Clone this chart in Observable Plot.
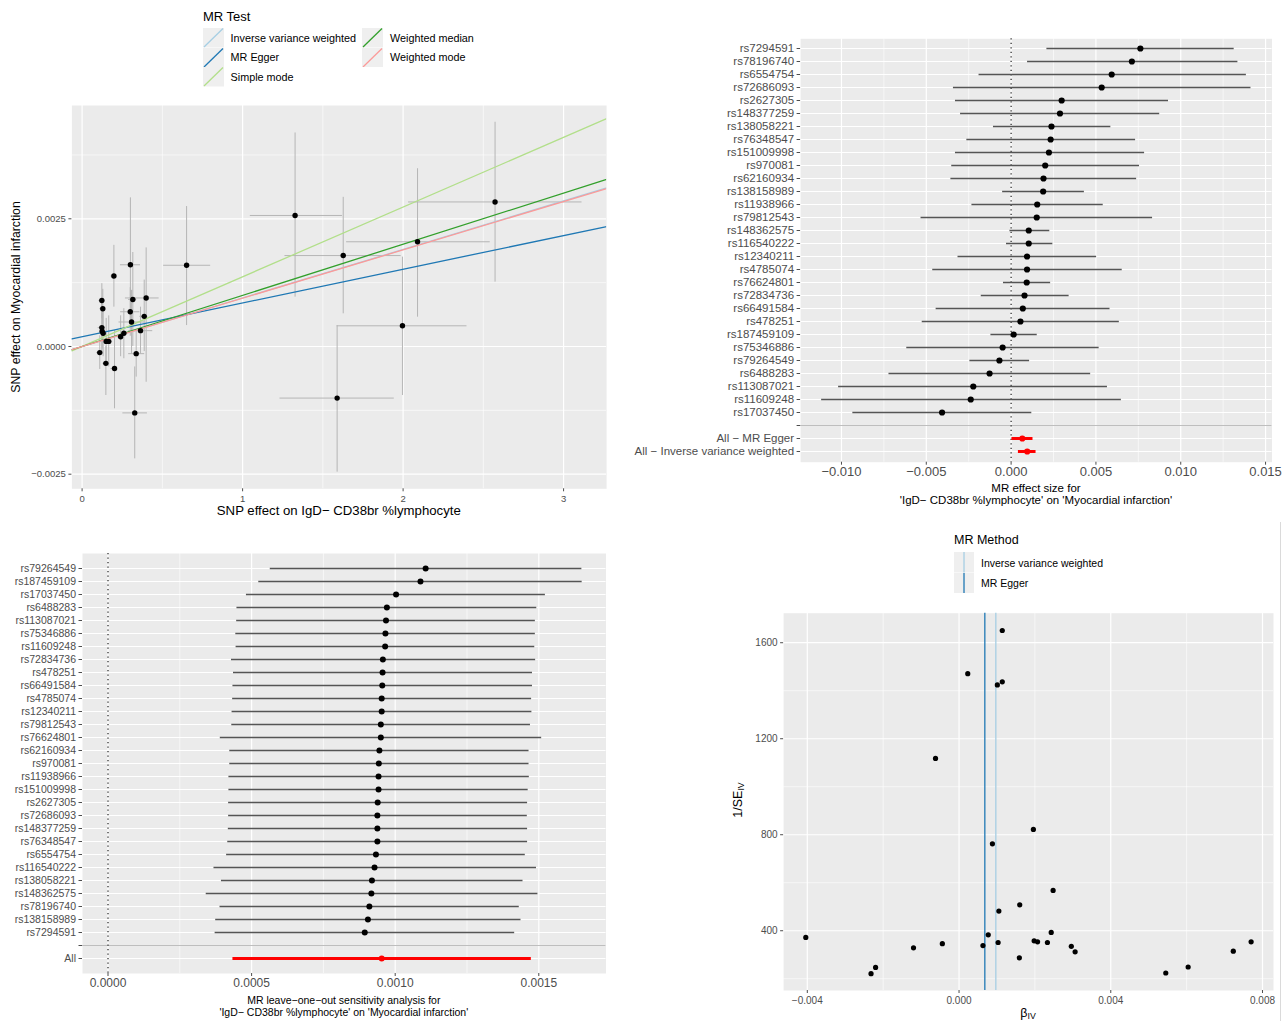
<!DOCTYPE html>
<html>
<head>
<meta charset="utf-8">
<script src="https://cdn.jsdelivr.net/npm/d3@7"></script>
<script src="https://cdn.jsdelivr.net/npm/@observablehq/plot@0.6"></script>
<style>
  body { margin: 0; background: #fff; }
  #root { position: relative; width: 1287px; height: 1021px; background: #fff; overflow: hidden;
          font-family: 'Liberation Sans', Arial, sans-serif; }
  .t { position: absolute; white-space: nowrap; line-height: 1; }
  sub { font-size: 0.7em; vertical-align: -0.25em; }
</style>
</head>
<body>
<div id="root"></div>
<script>
// ---------------- DATA ----------------
// Panel A: scatter (SNP effect on exposure vs outcome)
const scatterBx   = [1.327, 2.573, 2.09, 1.627, 1.996, 1.589, 0.651, 0.301, 0.198, 0.123, 0.129, 0.316, 0.399, 0.30, 0.387, 0.308, 0.123, 0.131, 0.26, 0.364, 0.15, 0.166, 0.11, 0.337, 0.148, 0.202, 0.328, 0.24, 0.125];
const scatterBy   = [0.002565, 0.00283, 0.00205, 0.00178, 0.000405, -0.00101, 0.00159, 0.0016, 0.00138, 0.0009, 0.00074, 0.00092, 0.00095, 0.00068, 0.00059, 0.00048, 0.00037, 0.00026, 0.00026, 0.00031, 0.0001, 0.0001, -0.00012, -0.00014, -0.00033, -0.00043, -0.0013, 0.00019, 0.0003];
const scatterBxLo = [1.048, 2.034, 1.648, 1.264, 1.589, 1.233, 0.508, 0.239, 0.18, 0.105, 0.11, 0.29, 0.27, 0.24, 0.36, 0.23, 0.10, 0.11, 0.24, 0.29, 0.13, 0.14, 0.09, 0.29, 0.13, 0.18, 0.254, 0.22, 0.11];
const scatterBxHi = [1.622, 3.115, 2.543, 1.988, 2.398, 1.945, 0.801, 0.364, 0.22, 0.141, 0.148, 0.34, 0.48, 0.36, 0.41, 0.39, 0.145, 0.15, 0.28, 0.44, 0.17, 0.19, 0.13, 0.39, 0.17, 0.22, 0.407, 0.26, 0.14];
const scatterByLo = [0.000966, 0.00126, 0.000574, 0.00064, -0.00096, -0.00246, 0.00041, 0.000476, 0.00077, 0.00054, 0.00031, 0.0, -0.0007, 0.0002, -0.0001, -0.00015, -0.0001, -0.0002, -0.00024, -0.00015, -0.00035, -0.0004, -0.00045, -0.0006, -0.00096, -0.00122, -0.0022, -0.0002, -0.00005];
const scatterByHi = [0.00418, 0.00439, 0.00348, 0.00292, 0.00175, 0.00041, 0.00274, 0.00291, 0.00198, 0.00123, 0.00112, 0.00184, 0.00193, 0.00115, 0.0013, 0.0011, 0.00085, 0.0007, 0.00074, 0.00077, 0.00055, 0.0006, 0.00021, 0.0003, 0.0, 0.00031, -0.0004, 0.0006, 0.00065];
const scatterMethods    = ["Inverse variance weighted", "MR Egger", "Simple mode", "Weighted median", "Weighted mode"];
const scatterColors     = ["#A6CEE3", "#1F78B4", "#B2DF8A", "#33A02C", "#FB9A99"];
const scatterSlopes     = [0.00095, 0.00066, 0.001365, 0.001001, 0.000946];
const scatterIntercepts = [0, 0.000192, 0, 0, 0];
const scatterXTicks = [0, 1, 2, 3];
const scatterYTicks = [-0.0025, 0, 0.0025];

// Panel B: forest plot of single-SNP estimates
const forestSnps = ["rs7294591","rs78196740","rs6554754","rs72686093","rs2627305","rs148377259","rs138058221","rs76348547","rs151009998","rs970081","rs62160934","rs138158989","rs11938966","rs79812543","rs148362575","rs116540222","rs12340211","rs4785074","rs76624801","rs72834736","rs66491584","rs478251","rs187459109","rs75346886","rs79264549","rs6488283","rs113087021","rs11609248","rs17037450"];
const forestBeta = [0.00762, 0.00712, 0.00593, 0.00534, 0.00298, 0.00288, 0.00238, 0.00233, 0.00223, 0.00201, 0.00191, 0.00189, 0.00154, 0.00151, 0.00104, 0.00104, 0.00094, 0.00094, 0.00092, 0.00079, 0.00069, 0.00055, 0.00015, -0.0005, -0.00069, -0.00127, -0.00223, -0.00238, -0.00407];
const forestLo   = [0.00211, 0.00097, -0.00189, -0.0034, -0.00328, -0.00298, -0.00104, -0.00261, -0.00328, -0.0035, -0.00355, -0.0005, -0.00231, -0.00531, -0.00007, -0.00027, -0.00313, -0.00462, -0.00045, -0.00176, -0.00442, -0.00524, -0.00119, -0.00615, -0.00243, -0.0072, -0.01017, -0.01117, -0.00933];
const forestHi   = [0.01315, 0.01337, 0.01387, 0.01414, 0.00928, 0.00876, 0.00588, 0.00734, 0.00787, 0.00757, 0.0074, 0.00432, 0.00543, 0.00834, 0.00228, 0.00246, 0.00504, 0.00655, 0.00233, 0.00342, 0.00583, 0.00638, 0.00154, 0.00519, 0.00109, 0.00469, 0.00568, 0.0065, 0.00122];
const forestSummaryLabels = ["All − MR Egger", "All − Inverse variance weighted"];
const forestSummaryBeta   = [0.00066, 0.00095];
const forestSummaryLo     = [0.00005, 0.00043];
const forestSummaryHi     = [0.00129, 0.00147];
const forestXTicks = [-0.01, -0.005, 0, 0.005, 0.01, 0.015];

// Panel C: leave-one-out
const looSnps = ["rs79264549","rs187459109","rs17037450","rs6488283","rs113087021","rs75346886","rs11609248","rs72834736","rs478251","rs66491584","rs4785074","rs12340211","rs79812543","rs76624801","rs62160934","rs970081","rs11938966","rs151009998","rs2627305","rs72686093","rs148377259","rs76348547","rs6554754","rs116540222","rs138058221","rs148362575","rs78196740","rs138158989","rs7294591"];
const looBeta = [0.001106, 0.001088, 0.001003, 0.000971, 0.000968, 0.000966, 0.000965, 0.000957, 0.000956, 0.000955, 0.000953, 0.000953, 0.00095, 0.00095, 0.000945, 0.000943, 0.000942, 0.000942, 0.000939, 0.000938, 0.000938, 0.000938, 0.000933, 0.000928, 0.000919, 0.000917, 0.00091, 0.000905, 0.000894];
const looLo   = [0.000565, 0.000525, 0.000482, 0.000449, 0.000448, 0.000445, 0.000446, 0.00043, 0.000437, 0.000435, 0.000434, 0.000432, 0.000431, 0.000391, 0.000424, 0.000424, 0.000421, 0.000421, 0.00042, 0.00042, 0.000419, 0.000417, 0.000413, 0.000369, 0.000395, 0.000342, 0.00039, 0.000375, 0.000373];
const looHi   = [0.00165, 0.001651, 0.001523, 0.001493, 0.001488, 0.001488, 0.001486, 0.001489, 0.001478, 0.001478, 0.001475, 0.001476, 0.001471, 0.00151, 0.001466, 0.001466, 0.001467, 0.001463, 0.001461, 0.00146, 0.001461, 0.001461, 0.001453, 0.001492, 0.001445, 0.001497, 0.001432, 0.001438, 0.001416];
const looAllLabel = "All";
const looAllBeta = 0.000953, looAllLo = 0.000435, looAllHi = 0.001474;
const looXTicks = [0, 0.0005, 0.001, 0.0015];

// Panel D: funnel plot
const funnelBeta  = [0.00114, 0.00023, 0.00114, 0.00101, -0.00062, 0.00196, 0.00088, 0.00248, 0.0016, 0.00105, 0.00243, 0.00077, -0.00404, 0.0077, 0.00198, 0.00207, 0.00233, 0.00103, -0.00044, 0.00063, 0.00296, -0.0012, 0.00306, 0.00723, 0.00159, -0.0022, 0.00604, -0.00232, 0.00545];
const funnelInvSe = [1651, 1471, 1437, 1424, 1118, 822, 762, 568, 508, 482, 393, 383, 372, 354, 358, 354, 351, 351, 346, 338, 335, 329, 312, 315, 287, 247, 249, 221, 224];
const funnelMethods = ["Inverse variance weighted", "MR Egger"];
const funnelColors  = ["#A6CEE3", "#1F78B4"];
const funnelEstimates = [0.00097, 0.00068];
const funnelXTicks = [-0.004, 0, 0.004, 0.008];
const funnelYTicks = [400, 800, 1200, 1600];

// ---------------- HELPERS ----------------
const root = document.getElementById("root");
const FONT = "'Liberation Sans', Arial, sans-serif";
const BG = "#EBEBEB";
const TICK_COL = "#4D4D4D";

function place(svg, left, top) {
  svg.style.position = "absolute";
  svg.style.left = left + "px";
  svg.style.top = top + "px";
  root.appendChild(svg);
}
function txt(html, x, y, {size = 11, color = "#000", rotate = 0, anchor = "middle"} = {}) {
  const d = document.createElement("div");
  d.className = "t";
  d.innerHTML = html;
  d.style.left = x + "px";
  d.style.top = y + "px";
  d.style.fontSize = size + "px";
  d.style.color = color;
  const tx = anchor === "middle" ? "-50%" : "0";
  d.style.transform = rotate ? `translate(-50%,-50%) rotate(${rotate}deg)` : `translate(${tx},-50%)`;
  root.appendChild(d);
}
function minorOf(ticks) {
  const out = [];
  const step = ticks[1] - ticks[0];
  out.push(ticks[0] - step / 2);
  for (let i = 0; i < ticks.length; i++) out.push(ticks[i] + step / 2);
  return out;
}
function within(arr, dom) { return arr.filter(v => v >= dom[0] && v <= dom[1]); }
const baseStyle = (size) => ({fontFamily: FONT, fontSize: size + "px", background: "transparent", color: TICK_COL, overflow: "visible"});

// ---------------- PANEL A ----------------
{
  const xd = [-0.0636, 3.268], yd = [-0.002786, 0.004718];
  const data = scatterBx.map((x, i) => ({x, y: scatterBy[i], xlo: scatterBxLo[i], xhi: scatterBxHi[i], ylo: scatterByLo[i], yhi: scatterByHi[i]}));
  const lines = scatterMethods.flatMap((m, i) => xd.map(x => ({method: m, x, y: scatterIntercepts[i] + scatterSlopes[i] * x})));
  const svg = Plot.plot({
    width: 640, height: 425,
    marginLeft: 71.4, marginRight: 33.9, marginTop: 10, marginBottom: 31.7,
    style: baseStyle(9.5),
    x: {domain: xd}, y: {domain: yd},
    color: {domain: scatterMethods, range: scatterColors},
    marks: [
      Plot.frame({fill: BG, stroke: null}),
      Plot.ruleX(within(minorOf(scatterXTicks), xd), {stroke: "white", strokeWidth: 0.6}),
      Plot.ruleY(within(minorOf(scatterYTicks), yd), {stroke: "white", strokeWidth: 0.6}),
      Plot.ruleX(scatterXTicks, {stroke: "white", strokeWidth: 1.2}),
      Plot.ruleY(scatterYTicks, {stroke: "white", strokeWidth: 1.2}),
      Plot.ruleX(data, {x: "x", y1: "ylo", y2: "yhi", stroke: "#B5B5B5", strokeWidth: 1}),
      Plot.ruleY(data, {y: "y", x1: "xlo", x2: "xhi", stroke: "#B5B5B5", strokeWidth: 1}),
      Plot.line(lines, {x: "x", y: "y", z: "method", stroke: "method", strokeWidth: 1.3, clip: true}),
      Plot.dot(data, {x: "x", y: "y", r: 2.7, fill: "black"}),
      Plot.axisX({ticks: scatterXTicks, tickSize: 3, tickPadding: 3, label: null, tickFormat: d3.format("d"), fontSize: 9.5}),
      Plot.axisY({ticks: scatterYTicks, tickSize: 3, tickPadding: 3, label: null, tickFormat: d3.format(".4f"), fontSize: 9.5})
    ]
  });
  place(svg, 0, 95);
  txt("SNP effect on IgD− CD38br %lymphocyte", 338.8, 511, {size: 13.2});
  txt("SNP effect on Myocardial infarction", 16, 297, {size: 12.3, rotate: -90});

  // legend
  txt("MR Test", 203, 16, {size: 13, anchor: "start"});
  const keyPos = [[203, 28], [203, 47.5], [203, 67], [362, 28], [362, 47.5]];
  const labPos = [[230.6, 37.7], [230.6, 57.3], [230.6, 76.7], [390, 37.7], [390, 57.3]];
  scatterMethods.forEach((m, i) => {
    const k = document.createElement("div");
    k.style.cssText = `position:absolute;left:${keyPos[i][0]}px;top:${keyPos[i][1]}px;width:21px;height:19.5px;`;
    k.innerHTML = `<svg width="21" height="19.5"><rect width="21" height="19.5" fill="#EFEFEF"/><line x1="1" y1="19" x2="20" y2="0.5" stroke="${scatterColors[i]}" stroke-width="1.3"/></svg>`;
    root.appendChild(k);
    txt(m, labPos[i][0], labPos[i][1], {size: 10.8, anchor: "start"});
  });
}

// ---------------- PANEL B ----------------
{
  const xd = [-0.01241, 0.01538];
  const dom = [...forestSnps, " ", ...forestSummaryLabels];
  const rows = forestSnps.map((s, i) => ({s, b: forestBeta[i], lo: forestLo[i], hi: forestHi[i]}));
  const sums = forestSummaryLabels.map((s, i) => ({s, b: forestSummaryBeta[i], lo: forestSummaryLo[i], hi: forestSummaryHi[i]}));
  const svg = Plot.plot({
    width: 667, height: 480,
    marginLeft: 180.1, marginRight: 15.5, marginTop: 8.3, marginBottom: 48.3,
    style: baseStyle(11.5),
    x: {domain: xd},
    y: {type: "point", domain: dom, padding: 0.6},
    marks: [
      Plot.frame({fill: BG, stroke: null}),
      Plot.ruleX(within(minorOf(forestXTicks), xd), {stroke: "white", strokeWidth: 0.6}),
      Plot.ruleX(forestXTicks, {stroke: "white", strokeWidth: 1.2}),
      Plot.ruleY(dom, {stroke: "white", strokeWidth: 1.2}),
      Plot.ruleY([" "], {stroke: "#BEBEBE", strokeWidth: 1.2}),
      Plot.ruleX([0], {stroke: "#222", strokeWidth: 1.2, strokeDasharray: "1.3,3.2"}),
      Plot.ruleY(rows, {y: "s", x1: "lo", x2: "hi", stroke: "#555", strokeWidth: 1.3}),
      Plot.dot(rows, {x: "b", y: "s", r: 3.1, fill: "black"}),
      Plot.ruleY(sums, {y: "s", x1: "lo", x2: "hi", stroke: "#FF0000", strokeWidth: 3}),
      Plot.dot(sums, {x: "b", y: "s", r: 3.1, fill: "#FF0000"}),
      Plot.axisX({ticks: forestXTicks, tickSize: 3, tickPadding: 2, label: null, tickFormat: d3.format(".3f"), fontSize: 13}),
      Plot.axisY({tickSize: 3.5, tickPadding: 3, label: null, fontSize: 11.5})
    ]
  });
  place(svg, 620, 30);
  txt("MR effect size for", 1036, 489, {size: 11.5});
  txt("'IgD− CD38br %lymphocyte' on 'Myocardial infarction'", 1036, 500.7, {size: 11.5});
}

// ---------------- PANEL C ----------------
{
  const xd = [-0.0000888, 0.001734];
  const dom = [...looSnps, " ", looAllLabel];
  const rows = looSnps.map((s, i) => ({s, b: looBeta[i], lo: looLo[i], hi: looHi[i]}));
  const all = [{s: looAllLabel, b: looAllBeta, lo: looAllLo, hi: looAllHi}];
  const svg = Plot.plot({
    width: 620, height: 481,
    marginLeft: 82, marginRight: 14.5, marginTop: 13, marginBottom: 48,
    style: baseStyle(10.5),
    x: {domain: xd},
    y: {type: "point", domain: dom, padding: 0.6},
    marks: [
      Plot.frame({fill: BG, stroke: null}),
      Plot.ruleX(within(minorOf(looXTicks), xd), {stroke: "white", strokeWidth: 0.6}),
      Plot.ruleX(looXTicks, {stroke: "white", strokeWidth: 1.2}),
      Plot.ruleY(dom, {stroke: "white", strokeWidth: 1.2}),
      Plot.ruleY([" "], {stroke: "#BEBEBE", strokeWidth: 1.2}),
      Plot.ruleX([0], {stroke: "#222", strokeWidth: 1.2, strokeDasharray: "1.3,3.2"}),
      Plot.ruleY(rows, {y: "s", x1: "lo", x2: "hi", stroke: "#555", strokeWidth: 1.3}),
      Plot.dot(rows, {x: "b", y: "s", r: 3, fill: "black"}),
      Plot.ruleY(all, {y: "s", x1: "lo", x2: "hi", stroke: "#FF0000", strokeWidth: 3}),
      Plot.dot(all, {x: "b", y: "s", r: 3, fill: "#FF0000"}),
      Plot.axisX({ticks: looXTicks, tickSize: 3, tickPadding: 2, label: null, tickFormat: d3.format(".4f"), fontSize: 12}),
      Plot.axisY({tickSize: 3.5, tickPadding: 3, label: null, fontSize: 10.5})
    ]
  });
  place(svg, 0, 540);
  txt("MR leave−one−out sensitivity analysis for", 343.8, 1000, {size: 10.5});
  txt("'IgD− CD38br %lymphocyte' on 'Myocardial infarction'", 343.8, 1011.7, {size: 10.5});
}

// ---------------- PANEL D ----------------
{
  const xd = [-0.004625, 0.00829], yd = [151, 1723];
  const pts = funnelBeta.map((b, i) => ({b, p: funnelInvSe[i]}));
  const est = funnelMethods.map((m, i) => ({m, v: funnelEstimates[i]}));
  const svg = Plot.plot({
    width: 587, height: 501,
    marginLeft: 83.1, marginRight: 14, marginTop: 92.7, marginBottom: 31,
    style: baseStyle(10),
    x: {domain: xd}, y: {domain: yd},
    color: {domain: funnelMethods, range: funnelColors},
    marks: [
      Plot.frame({fill: BG, stroke: null}),
      Plot.ruleX(within(minorOf(funnelXTicks), xd), {stroke: "white", strokeWidth: 0.6}),
      Plot.ruleY(within(minorOf(funnelYTicks), yd), {stroke: "white", strokeWidth: 0.6}),
      Plot.ruleX(funnelXTicks, {stroke: "white", strokeWidth: 1.2}),
      Plot.ruleY(funnelYTicks, {stroke: "white", strokeWidth: 1.2}),
      Plot.ruleX(est, {x: "v", stroke: "m", strokeWidth: 1.3}),
      Plot.dot(pts, {x: "b", y: "p", r: 2.6, fill: "black"}),
      Plot.axisX({ticks: funnelXTicks, tickSize: 3, tickPadding: 3, label: null, tickFormat: d3.format(".3f"), fontSize: 10}),
      Plot.axisY({ticks: funnelYTicks, tickSize: 3, tickPadding: 3, label: null, tickFormat: d3.format("d"), fontSize: 10})
    ]
  });
  place(svg, 700, 520);
  txt("β<sub>IV</sub>", 1028, 1014, {size: 12.5});
  txt("1/SE<sub>IV</sub>", 739, 800, {size: 12.5, rotate: -90});
  // legend
  txt("MR Method", 954, 540, {size: 12.5, anchor: "start"});
  funnelMethods.forEach((m, i) => {
    const k = document.createElement("div");
    k.style.cssText = `position:absolute;left:954px;top:${552 + i * 20.5}px;width:20px;height:20.5px;`;
    k.innerHTML = `<svg width="20" height="20.5"><rect width="20" height="20.5" fill="#EFEFEF"/><line x1="10" y1="0" x2="10" y2="20.5" stroke="${funnelColors[i]}" stroke-width="1.3"/></svg>`;
    root.appendChild(k);
    txt(m, 981, 562.7 + i * 20, {size: 10.5, anchor: "start"});
  });
  // thin frame line at right edge of the sub-figure
  const edge = document.createElement("div");
  edge.style.cssText = "position:absolute;left:1280px;top:522px;width:1px;height:499px;background:#DADADA;";
  root.appendChild(edge);
}
</script>
</body>
</html>
